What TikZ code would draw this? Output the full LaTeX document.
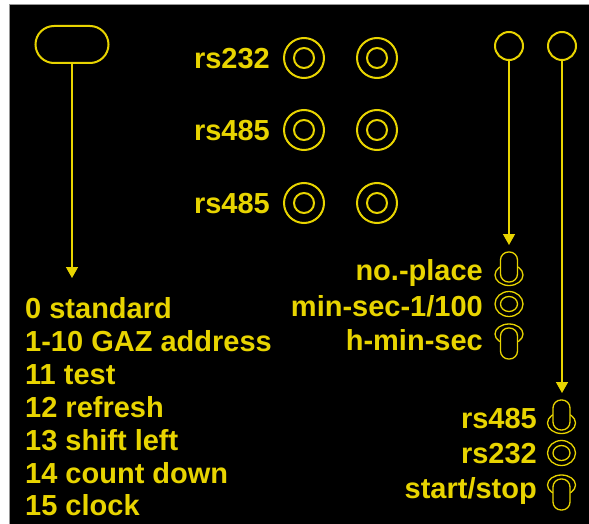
\documentclass[tikz,border=0pt]{standalone}
\usepackage{fontspec}
\setmainfont{Liberation Sans}
\usetikzlibrary{shapes.misc,arrows.meta}
\definecolor{ylw}{RGB}{232,212,0}
\definecolor{frm}{RGB}{150,150,150}
\tikzset{
  lbl/.style={text=ylw,font=\bfseries\fontsize{29}{33}\selectfont,inner sep=0pt},
  lbll/.style={lbl,anchor=base west},
  lblr/.style={lbl,anchor=base east},
  ring/.style={draw=ylw,line width=2pt,circle,inner sep=0pt},
  arr/.style={draw=ylw,line width=1.5pt,-{Triangle[length=11pt,width=12pt]}},
  sym/.style={draw=ylw,line width=1.3pt},
  toggleup/.pic={
    \draw[sym] (0,0) ellipse [x radius=14,y radius=10.5];
    \draw[sym,fill=black,rounded corners=8pt] (-8.5,-23) rectangle (8.5,7);
  },
  toggledown/.pic={
    \draw[sym] (0,0) ellipse [x radius=14,y radius=10];
    \draw[sym,fill=black,rounded corners=8pt] (-8.5,-6) rectangle (8.5,25);
  },
  togglemid/.pic={
    \draw[sym] (0,0) ellipse [x radius=14,y radius=12.5];
    \draw[sym] (0,0) ellipse [x radius=8.5,y radius=7.5];
  }
}
\begin{document}
\begin{tikzpicture}[x=1pt,y=-1pt]
\useasboundingbox (0,0) rectangle (589,524);
\fill[white] (0,0) rectangle (589,524);
\draw[frm,line width=1pt,fill=black] (9,5) rectangle (590,525);

% top-left device
\node[draw=ylw,line width=2pt,rounded rectangle,minimum width=73pt,minimum height=37pt,inner sep=0pt] (dev) at (72,44.5) {};
\coordinate (tipL) at (72,278);
\draw[arr] (dev.south) -- (tipL);

% connector circles
\foreach \r/\y in {1/58,2/130,3/203}{
  \node[ring,minimum size=40pt] (a\r) at (304,\y) {};
  \node[ring,minimum size=20pt] (ai\r) at (304,\y) {};
  \node[ring,minimum size=40pt] (b\r) at (377,\y) {};
  \node[ring,minimum size=20pt] (bi\r) at (377,\y) {};
}
\node[lblr] (l1) at (270,68.5) {rs232};
\node[lblr] (l2) at (270,140.5) {rs485};
\node[lblr] (l3) at (270,213.5) {rs485};

% top right circles and arrows
\node[ring,minimum size=28pt] (c1) at (509,46) {};
\node[ring,minimum size=28pt] (c2) at (562,46) {};
\coordinate (tip1) at (509,245);
\coordinate (tip2) at (562,393);
\draw[arr] (c1.south) -- (tip1);
\draw[arr] (c2.south) -- (tip2);

% left list
\node[lbll] (m0) at (25,318) {0 standard};
\node[lbll] (m1) at (25,351) {1-10 GAZ address};
\node[lbll] (m2) at (25,384) {11 test};
\node[lbll] (m3) at (25,417) {12 refresh};
\node[lbll] (m4) at (25,450) {13 shift left};
\node[lbll] (m5) at (25,483) {14 count down};
\node[lbll] (m6) at (25,515) {15 clock};

% upper switch group
\node[lblr] (s1) at (483,280.5) {no.-place};
\node[lblr] (s2) at (483,316.5) {min-sec-1/100};
\node[lblr] (s3) at (483,350.5) {h-min-sec};
\pic at (509,275) {toggleup};
\pic at (509,304) {togglemid};
\pic at (509,334) {toggledown};

% lower switch group
\node[lblr] (t1) at (537,428.5) {rs485};
\node[lblr] (t2) at (537,463.5) {rs232};
\node[lblr] (t3) at (537,498.5) {start/stop};
\pic at (561.5,423) {toggleup};
\pic at (561.5,453) {togglemid};
\pic at (561.5,485) {toggledown};
\end{tikzpicture}
\end{document}
